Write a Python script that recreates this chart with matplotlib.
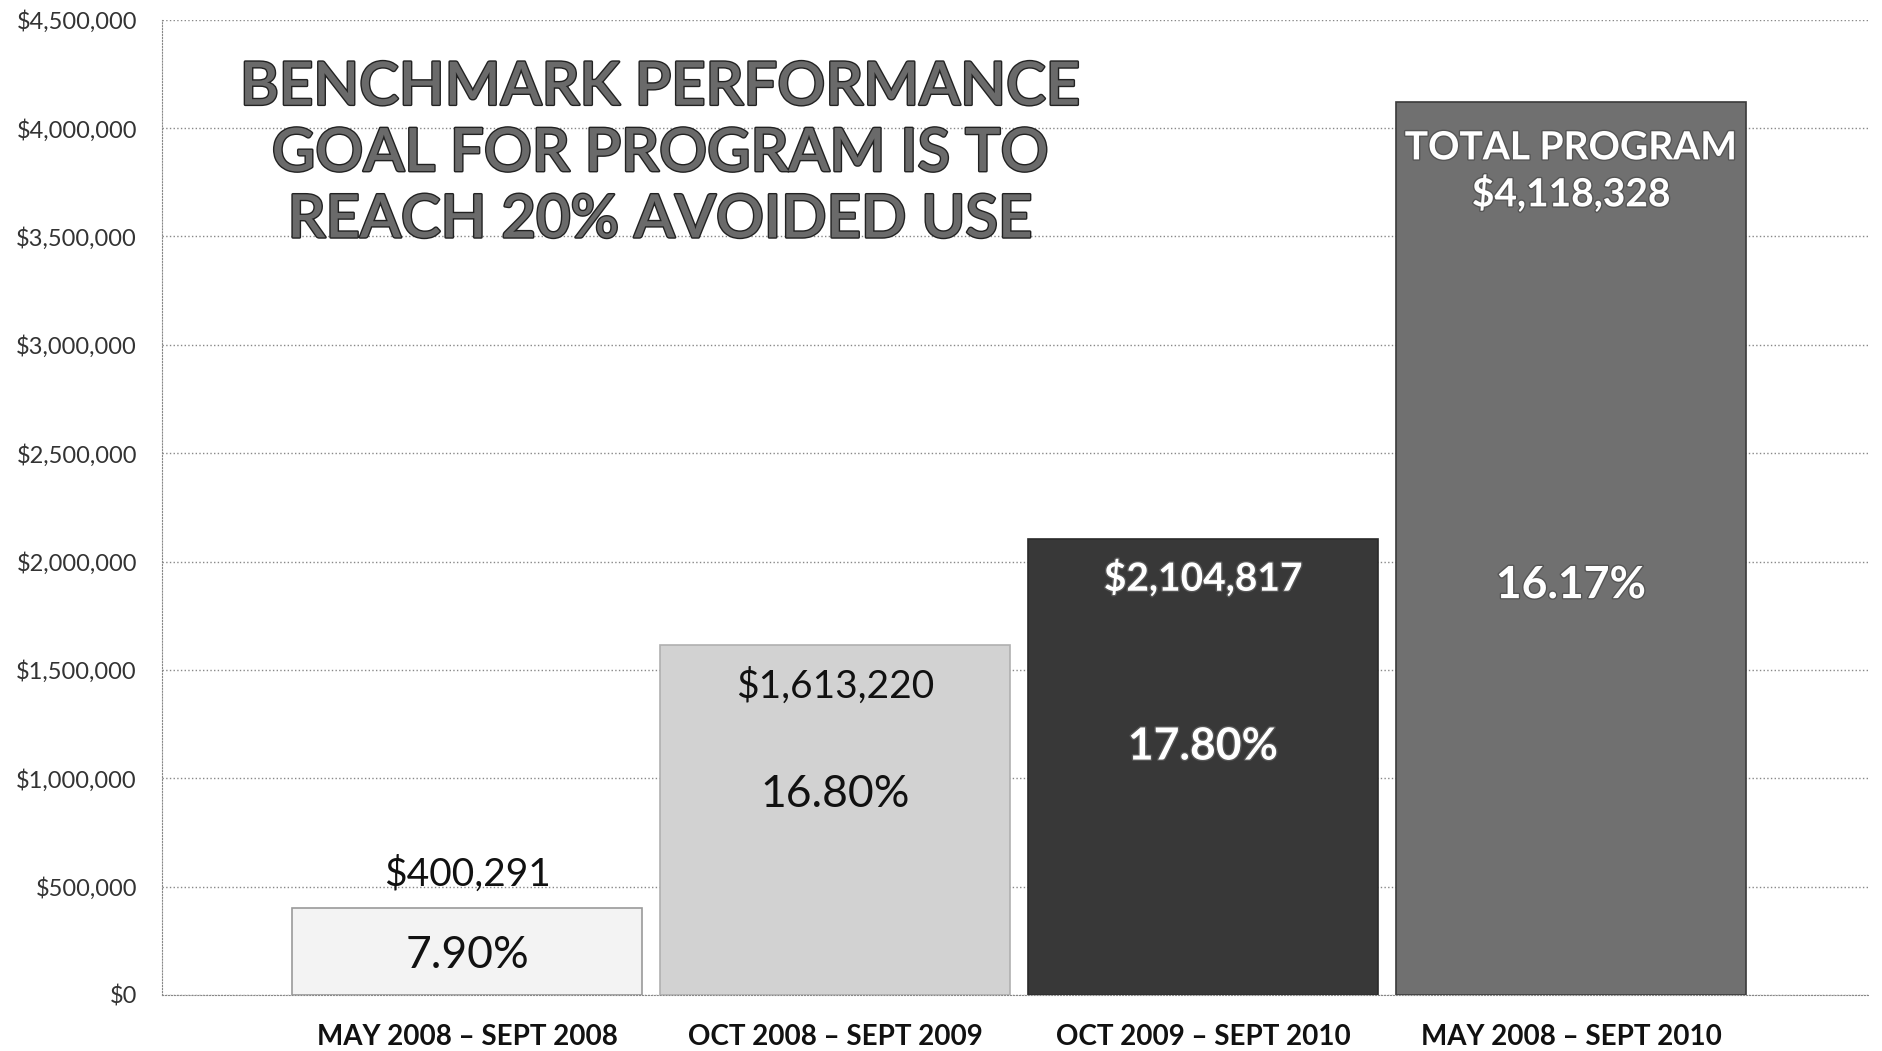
import matplotlib
matplotlib.use("Agg")
import matplotlib.pyplot as plt
import matplotlib.ticker as tick
import matplotlib.patheffects as pe

# values
periods = ["MAY 2008 – SEPT 2008", "OCT 2008 – SEPT 2009",
           "OCT 2009 – SEPT 2010", "MAY 2008 – SEPT 2010"]
savings = [400291, 1613220, 2104817, 4118328]
avoided_pct = ["7.90%", "16.80%", "17.80%", "16.17%"]
value_labels = ["$400,291", "$1,613,220", "$2,104,817", "TOTAL PROGRAM\n$4,118,328"]
yticks = [0, 500000, 1000000, 1500000, 2000000, 2500000, 3000000, 3500000, 4000000, 4500000]

plt.rcParams['font.family'] = ['Lato', 'DejaVu Sans']

fig = plt.figure(figsize=(18.83, 10.51), dpi=100)
ax = fig.add_axes([0.086, 0.0533, 0.906, 0.928])

bar_colors = ["#f3f3f3", "#d2d2d2", "#383838", "#707070"]
edge_colors = ["#9a9a9a", "#b0b0b0", "#2a2a2a", "#3a3a3a"]
x = list(range(len(periods)))
ax.bar(x, savings, width=0.95, color=bar_colors, edgecolor=edge_colors, linewidth=1.2, zorder=2)

ax.set_xlim(-0.829, 3.807)
ax.set_ylim(0, 4500000)
ax.set_yticks(yticks)
ax.yaxis.set_major_formatter(tick.StrMethodFormatter('${x:,.0f}'))
ax.tick_params(axis='y', length=0, labelsize=17, labelcolor="#333333", pad=18)
ax.set_xticks(x)
ax.set_xticklabels(periods, fontsize=20, fontweight='bold', color="#111111")
ax.tick_params(axis='x', length=0, pad=21)

ax.grid(axis='y', linestyle=':', color="#888888", linewidth=1.0, zorder=0)
for s in ["top", "right"]:
    ax.spines[s].set_visible(False)
ax.spines["left"].set_linestyle(":")
ax.spines["left"].set_color("#888888")
ax.spines["bottom"].set_linestyle(":")
ax.spines["bottom"].set_color("#888888")

# value and percentage labels
val_y = [560000, 1424000, 1924000, 3800000]
pct_y = [184000, 923000, 1146000, 1891000]
txt_colors = ["#111111", "#111111", "white", "white"]
for i in range(len(periods)):
    bold = 'bold' if i >= 2 else 'normal'
    effects = [pe.withStroke(linewidth=2, foreground="#555555")] if i >= 2 else None
    ax.text(x[i], val_y[i], value_labels[i], ha='center', va='center', fontsize=28,
            color=txt_colors[i], fontweight=bold, linespacing=1.3, zorder=3, path_effects=effects)
    ax.text(x[i], pct_y[i], avoided_pct[i], ha='center', va='center', fontsize=32,
            color=txt_colors[i], fontweight=bold, zorder=3, path_effects=effects)

ax.text(0.525, 3.88e6, "BENCHMARK PERFORMANCE\nGOAL FOR PROGRAM IS TO\nREACH 20% AVOIDED USE",
        ha='center', va='center', fontsize=43, fontweight='semibold', color="#6a6a6a", linespacing=1.28,
        path_effects=[pe.withStroke(linewidth=2, foreground="#222222")], zorder=3)

fig.savefig("out.png", dpi=100)
